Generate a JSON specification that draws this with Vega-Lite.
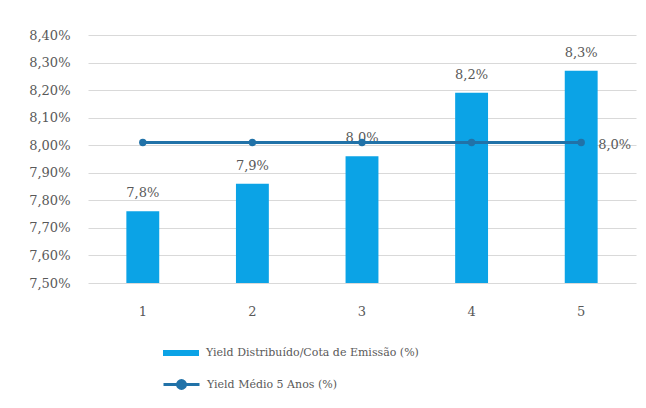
{
  "$schema": "https://vega.github.io/schema/vega-lite/v6.json",
  "width": 548,
  "height": 248,
  "autosize": "none",
  "padding": {"left": 88, "top": 35, "right": 10, "bottom": 125},
  "background": "white",
  "config": {
    "view": {"stroke": null},
    "font": "DejaVu Serif",
    "locale": {"number": {"decimal": ",", "thousands": ".", "grouping": [3], "currency": ["", " €"]}},
    "axis": {"labelFont": "DejaVu Serif", "labelColor": "#595959", "labelFontSize": 13, "ticks": false, "domain": false, "title": null, "labelOverlap": false},
    "legend": {"labelFont": "DejaVu Serif", "labelColor": "#595959", "labelFontSize": 11, "labelLimit": 400, "title": null, "padding": 0, "orient": "none"}
  },
  "data": {"values": [
    {"cat": "1", "yield": 0.0776, "media": 0.0801, "s1": "Yield Distribuído/Cota de Emissão (%)", "s2": "Yield Médio 5 Anos (%)"},
    {"cat": "2", "yield": 0.0786, "media": 0.0801, "s1": "Yield Distribuído/Cota de Emissão (%)", "s2": "Yield Médio 5 Anos (%)"},
    {"cat": "3", "yield": 0.0796, "media": 0.0801, "s1": "Yield Distribuído/Cota de Emissão (%)", "s2": "Yield Médio 5 Anos (%)"},
    {"cat": "4", "yield": 0.0819, "media": 0.0801, "s1": "Yield Distribuído/Cota de Emissão (%)", "s2": "Yield Médio 5 Anos (%)"},
    {"cat": "5", "yield": 0.0827, "media": 0.0801, "s1": "Yield Distribuído/Cota de Emissão (%)", "s2": "Yield Médio 5 Anos (%)"}
  ]},
  "encoding": {
    "x": {"field": "cat", "type": "ordinal", "scale": {"paddingInner": 0.7, "paddingOuter": 0.35},
          "axis": {"labelAngle": 0, "labelPadding": 22, "grid": false}}
  },
  "layer": [
    {
      "mark": {"type": "bar"},
      "encoding": {
        "y": {"field": "yield", "type": "quantitative",
              "scale": {"domain": [0.075, 0.084], "zero": false, "nice": false},
              "axis": {"values": [0.075, 0.076, 0.077, 0.078, 0.079, 0.080, 0.081, 0.082, 0.083, 0.084], "format": ".2%", "labelPadding": 18, "grid": true, "gridColor": "#d9d9d9", "gridWidth": 1}},
        "y2": {"datum": 0.075},
        "color": {"field": "s1", "type": "nominal", "scale": {"range": ["#0BA3E6"]},
                  "legend": {"legendX": 74, "legendY": 299, "symbolType": "M-1,-0.17H1V0.17H-1Z", "symbolSize": 1296, "labelOffset": 6}}
      }
    },
    {
      "mark": {"type": "text", "dy": -18, "fontSize": 13, "color": "#595959", "font": "DejaVu Serif"},
      "encoding": {
        "y": {"field": "yield", "type": "quantitative",
              "axis": {"values": [0.075, 0.076, 0.077, 0.078, 0.079, 0.080, 0.081, 0.082, 0.083, 0.084], "format": ".2%", "labelPadding": 18, "grid": true, "gridColor": "#d9d9d9", "gridWidth": 1}},
        "text": {"field": "yield", "type": "quantitative", "format": ".1%"}
      }
    },
    {
      "mark": {"type": "line", "strokeWidth": 3},
      "encoding": {
        "y": {"field": "media", "type": "quantitative",
              "axis": {"values": [0.075, 0.076, 0.077, 0.078, 0.079, 0.080, 0.081, 0.082, 0.083, 0.084], "format": ".2%", "labelPadding": 18, "grid": true, "gridColor": "#d9d9d9", "gridWidth": 1}},
        "stroke": {"field": "s2", "type": "nominal", "scale": {"range": ["#2172A8"]},
                   "legend": {"legendX": 74, "legendY": 330, "symbolType": "M-1,0H1M0.22,0A0.22,0.22 0 1,1 -0.22,0A0.22,0.22 0 1,1 0.22,0", "symbolSize": 1296, "symbolStrokeWidth": 3, "symbolFillColor": "#2172A8", "labelOffset": 6}}
      }
    },
    {
      "mark": {"type": "point", "filled": true, "size": 55, "color": "#2172A8", "opacity": 1},
      "encoding": {"y": {"field": "media", "type": "quantitative",
              "axis": {"values": [0.075, 0.076, 0.077, 0.078, 0.079, 0.080, 0.081, 0.082, 0.083, 0.084], "format": ".2%", "labelPadding": 18, "grid": true, "gridColor": "#d9d9d9", "gridWidth": 1}}}
    },
    {
      "transform": [{"filter": "datum.cat == '5'"}],
      "mark": {"type": "text", "align": "left", "dx": 17, "dy": 3, "fontSize": 13, "color": "#595959", "font": "DejaVu Serif"},
      "encoding": {
        "y": {"field": "media", "type": "quantitative",
              "axis": {"values": [0.075, 0.076, 0.077, 0.078, 0.079, 0.080, 0.081, 0.082, 0.083, 0.084], "format": ".2%", "labelPadding": 18, "grid": true, "gridColor": "#d9d9d9", "gridWidth": 1}},
        "text": {"field": "media", "type": "quantitative", "format": ".1%"}
      }
    }
  ]
}
